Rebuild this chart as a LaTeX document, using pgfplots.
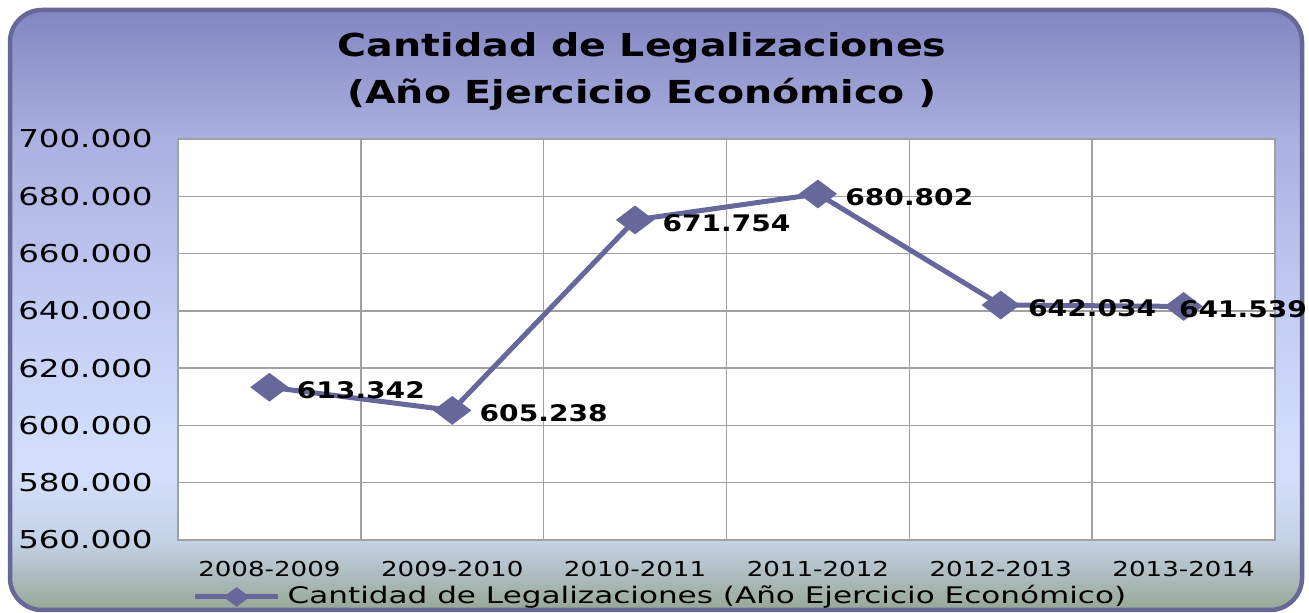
\documentclass[border=0pt]{standalone}
\usepackage{pgfplots}
\pgfplotsset{compat=1.18}
\usepackage{fontspec}
\setmainfont{DejaVu Sans}[FakeStretch=1.32]
\newfontfamily\titlefont{DejaVu Sans}[FakeStretch=1.25]
\newfontfamily\xtickfont{DejaVu Sans}[FakeStretch=1.27]
\newfontfamily\legfont{DejaVu Sans}[FakeStretch=1.36]
\newfontfamily\labfont{DejaVu Sans}[FakeStretch=1.23]

\definecolor{serie}{RGB}{103,103,155}
\definecolor{marco}{RGB}{104,104,152}
\definecolor{rejilla}{RGB}{160,160,160}

% fondo del grafico: azul violaceo arriba, verde grisaceo abajo
\pgfdeclareverticalshading{fondo}{100bp}{%
  color(0bp)=(rgb,255:red,150;green,168;blue,150);
  color(25bp)=(rgb,255:red,150;green,168;blue,150);
  color(27.5bp)=(rgb,255:red,170;green,185;blue,185);
  color(30.8bp)=(rgb,255:red,196;green,210;blue,230);
  color(35.8bp)=(rgb,255:red,210;green,222;blue,250);
  color(40bp)=(rgb,255:red,208;green,220;blue,250);
  color(49.2bp)=(rgb,255:red,196;green,206;blue,244);
  color(64.2bp)=(rgb,255:red,170;green,176;blue,224);
  color(75bp)=(rgb,255:red,130;green,134;blue,194);
  color(100bp)=(rgb,255:red,130;green,134;blue,194)}

\pgfplotsset{
  etiqueta/.style={only marks, mark=none, forget plot,
    point meta=explicit symbolic,
    nodes near coords={\pgfplotspointmeta},
    nodes near coords style={anchor=west, text=black,
      font=\labfont\bfseries\fontsize{6.5}{7.5}\selectfont}},
}

\begin{document}
\begin{tikzpicture}
\useasboundingbox (0,0) rectangle (13.09,6.13);
\fill[white] (0,0) rectangle (13.09,6.13);
\path[shading=fondo, draw=marco, line width=0.045cm, rounded corners=0.32cm]
  (0.10,0.03) rectangle (13.02,6.03);

\begin{axis}[
    at={(1.78cm,0.73cm)}, anchor=south west,
    scale only axis,
    width=10.97cm, height=4.01cm,
    xmin=-0.5, xmax=5.5,
    ymin=560000, ymax=700000,
    xtick={0,1,2,3,4,5},
    xticklabels={2008-2009,2009-2010,2010-2011,2011-2012,2012-2013,2013-2014},
    minor xtick={0.5,1.5,2.5,3.5,4.5},
    ytick={560000,580000,600000,620000,640000,660000,680000,700000},
    scaled y ticks=false,
    /pgf/number format/.cd, fixed, precision=0, 1000 sep={.}, assume math mode=true,
    /pgfplots/.cd,
    major tick length=0pt, minor tick length=0pt,
    ymajorgrids=true, xminorgrids=true,
    grid style={draw=rejilla, line width=0.4pt},
    minor grid style={draw=rejilla, line width=0.4pt},
    axis line style={draw=rejilla, line width=0.4pt},
    axis background/.style={fill=white},
    yticklabel style={font=\fontsize{7}{8}\selectfont, xshift=-0.13cm},
    xticklabel style={font=\xtickfont\fontsize{5.85}{7}\selectfont, yshift=-0.09cm},
    title={Cantidad de Legalizaciones\\(Año Ejercicio Económico )},
    title style={at={(axis description cs:0.423,1.117)}, anchor=center, align=center,
      font=\titlefont\bfseries\fontsize{9}{13.4}\selectfont},
    clip=false,
    legend style={at={(0.442,-0.142)}, anchor=center, draw=none, fill=none,
      font=\legfont\fontsize{6.5}{7.5}\selectfont,
      legend cell align=left},
    legend image code/.code={%
      \draw[mark repeat=2,mark phase=2,mark size=0.09cm] plot coordinates {(0cm,0cm) (0.415cm,0cm) (0.83cm,0cm)};},
]
\addplot[color=serie, line width=0.05cm, mark=diamond*,
    mark size=0.15cm, mark options={rotate=90, solid, fill=serie}]
  coordinates {
    (0,613342)
    (1,605238)
    (2,671754)
    (3,680802)
    (4,642034)
    (5,641539)
  };
\addlegendentry{Cantidad de Legalizaciones (Año Ejercicio Económico)}
% etiquetas de datos
\addplot[etiqueta, nodes near coords style={xshift=0.15cm, yshift=-0.03cm}]
  coordinates {
    (0,613342) [613.342]
    (1,605238) [605.238]
    (2,671754) [671.754]
    (3,680802) [680.802]
    (4,642034) [642.034]
  };
\addplot[etiqueta, nodes near coords style={xshift=-0.17cm, yshift=-0.03cm}]
  coordinates {
    (5,641539) [641.539]
  };
\end{axis}
\end{tikzpicture}
\end{document}
